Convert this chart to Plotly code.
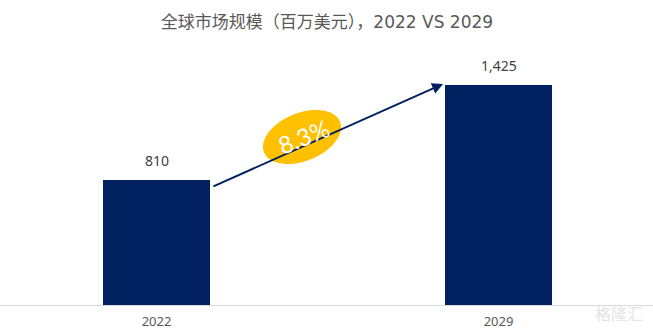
import math
import plotly.graph_objects as go

# Market size data (USD million)
years = ["2022", "2029"]
market_size = [810, 1425]
value_labels = ["810", "1,425"]
cagr_label = "8.3%"

W, H = 653, 330
M_L, M_R, M_T, M_B = 0, 0, 40, 25
plot_h = H - M_T - M_B
y_max = 1714

navy = "#002060"
gold = "#FFC000"

fig = go.Figure()
fig.add_trace(go.Bar(
    x=[0, 1],
    y=market_size,
    width=0.313,
    marker=dict(color=navy, line=dict(width=0)),
    hoverinfo="skip",
))

# Value labels above each bar
for i, (v, lab) in enumerate(zip(market_size, value_labels)):
    fig.add_annotation(
        x=i, y=v, xref="x", yref="y", yanchor="bottom", yshift=8,
        text=lab, showarrow=False,
        font=dict(family="Noto Sans, Open Sans, sans-serif", size=14, color="#404040"),
    )

# Rotated ellipse behind the CAGR label (built in pixel space, mapped to paper coords)
cx, cy, rx, ry, ang = 302, 137, 41, 24, math.radians(-22)
pts = []
for i in range(73):
    t = 2 * math.pi * i / 72
    ex, ey = rx * math.cos(t), ry * math.sin(t)
    px = cx + ex * math.cos(ang) - ey * math.sin(ang)
    py = cy + ex * math.sin(ang) + ey * math.cos(ang)
    pts.append((px / W, (H - M_B - py) / plot_h))
path = "M " + " L ".join(f"{x:.5f},{y:.5f}" for x, y in pts) + " Z"

fig.add_shape(type="path", path=path, xref="paper", yref="paper",
              fillcolor=gold, line=dict(width=0), layer="above")

# Growth arrow between the two bars
fig.add_annotation(
    x=0.838, y=1430, ax=0.162, ay=763,
    xref="x", yref="y", axref="x", ayref="y",
    showarrow=True, arrowhead=2, arrowsize=1.1, arrowwidth=2,
    arrowcolor=navy, text="",
)

fig.add_annotation(
    x=(cx + 1) / W, y=(H - M_B - cy + 1) / plot_h, xref="paper", yref="paper",
    text=cagr_label, showarrow=False, textangle=-22,
    font=dict(family="Lato, Open Sans, sans-serif", size=24, color="white"),
)

# Faint watermark in the lower right corner
fig.add_annotation(
    x=1, y=0, xref="paper", yref="paper", yshift=-8, xshift=-8,
    xanchor="right", yanchor="middle",
    text="格隆汇", showarrow=False,
    font=dict(family="Noto Sans CJK SC", size=16, color="#e4e4e4"),
)

fig.update_layout(
    width=W, height=H,
    margin=dict(l=M_L, r=M_R, t=M_T, b=M_B),
    paper_bgcolor="white", plot_bgcolor="white",
    showlegend=False,
    title=dict(
        text="全球市场规模（百万美元），<span style='font-family:DejaVu Sans'>2022 VS 2029</span>",
        x=327 / W, xanchor="center", y=1 - 22 / H, yanchor="middle",
        font=dict(family="Noto Sans CJK SC, Noto Sans, sans-serif", size=17, color="#595959"),
    ),
    xaxis=dict(
        range=[-156.5 / 342, (W - 156.5) / 342],
        tickmode="array", tickvals=[0, 1], ticktext=years,
        showgrid=False, zeroline=False,
        showline=True, linecolor="#d9d9d9", linewidth=1,
        ticks="", ticklabelstandoff=4,
        tickfont=dict(family="Noto Sans, Open Sans, sans-serif", size=13, color="#595959"),
        fixedrange=True,
    ),
    yaxis=dict(
        range=[0, y_max], visible=False, showgrid=False, zeroline=False,
        fixedrange=True,
    ),
    bargap=0,
)

fig.write_html("out.html")
